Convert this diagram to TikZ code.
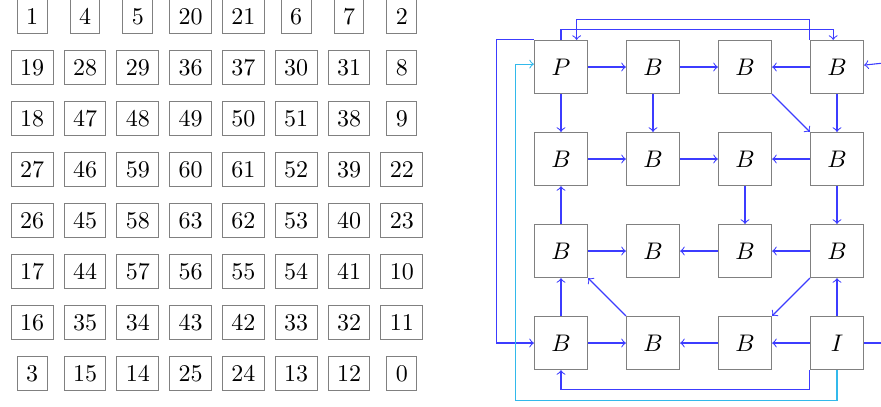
\documentclass[tikz,border=0pt]{standalone}
\definecolor{skyline}{RGB}{50,185,235}
\definecolor{linkblue}{RGB}{60,60,255}
\begin{document}
\begin{tikzpicture}[x=0.41667pt,y=-0.41667pt,
  cell/.style={draw=gray,inner sep=3.7pt},
  blk/.style={draw=gray,minimum size=22.2pt,inner sep=0pt},
  flow/.style={color=linkblue,line width=0.45pt,->},
  wrap/.style={color=skyline,line width=0.45pt,->}]
\useasboundingbox (0,0) rectangle (881,406);

% numbered grid
\foreach \row [count=\j from 0] in
  {{1,4,5,20,21,6,7,2},
   {19,28,29,36,37,30,31,8},
   {18,47,48,49,50,51,38,9},
   {27,46,59,60,61,52,39,22},
   {26,45,58,63,62,53,40,23},
   {17,44,57,56,55,54,41,10},
   {16,35,34,43,42,33,32,11},
   {3,15,14,25,24,13,12,0}}
  {\foreach \v [count=\i from 0] in \row
    {\node[cell] (g\j\i) at (32.2+52.8*\i,16.5+51*\j) {\v};}}

% block network
\node[blk] (n11) at (561,67) {$P$};
\node[blk] (n12) at (653,67) {$B$};
\node[blk] (n13) at (745,67) {$B$};
\node[blk] (n14) at (837,67) {$B$};
\node[blk] (n21) at (561,159) {$B$};
\node[blk] (n22) at (653,159) {$B$};
\node[blk] (n23) at (745,159) {$B$};
\node[blk] (n24) at (837,159) {$B$};
\node[blk] (n31) at (561,251) {$B$};
\node[blk] (n32) at (653,251) {$B$};
\node[blk] (n33) at (745,251) {$B$};
\node[blk] (n34) at (837,251) {$B$};
\node[blk] (n41) at (561,343) {$B$};
\node[blk] (n42) at (653,343) {$B$};
\node[blk] (n43) at (745,343) {$B$};
\node[blk] (n44) at (837,343) {$I$};
\coordinate (inR) at (881,63.3);
\coordinate (outR) at (881,343);

% row links
\draw[flow] (n11) -- (n12);
\draw[flow] (n12) -- (n13);
\draw[flow] (n14) -- (n13);
\draw[flow] (n21) -- (n22);
\draw[flow] (n22) -- (n23);
\draw[flow] (n24) -- (n23);
\draw[flow] (n31) -- (n32);
\draw[flow] (n33) -- (n32);
\draw[flow] (n34) -- (n33);
\draw[flow] (n41) -- (n42);
\draw[flow] (n43) -- (n42);
\draw[flow] (n44) -- (n43);

% column links
\draw[flow] (n11) -- (n21);
\draw[flow] (n12) -- (n22);
\draw[flow] (n14) -- (n24);
\draw[flow] (n23) -- (n33);
\draw[flow] (n24) -- (n34);
\draw[flow] (n31) -- (n21);
\draw[flow] (n41) -- (n31);
\draw[flow] (n44) -- (n34);

% diagonals
\draw[flow] (n13.south east) -- (n24.north west);
\draw[flow] (n34.south west) -- (n43.north east);
\draw[flow] (n42.north west) -- (n31.south east);

% outer loops
\draw[flow] (n11.north) -- ++(0,-10.7) -| (n14.98);
\draw[flow] (n14.north west) -- ++(0,-20.7) -| (n11.60);
\draw[flow] (n11.north west) -- ++(-37.6,0) |- (n41.west);
\draw[flow] (n44.south west) -- ++(0,19.3) -| (n41.south);
\draw[wrap] (n44.south) -- ++(0,30) -- ++(-321.3,0) |- (n11.174);
\draw[flow] (inR) -- (n14.4);
\draw[flow,-] (n44.east) -- (outR);
\end{tikzpicture}
\end{document}
